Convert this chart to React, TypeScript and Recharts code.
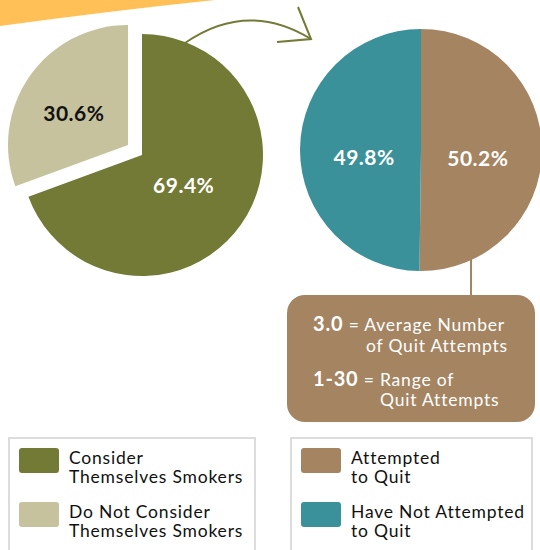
import React from 'react'
import { PieChart, Pie, Cell } from 'recharts'

// smokers self-identification (left pie)
const smokerLabels = ['Consider Themselves Smokers', 'Do Not Consider Themselves Smokers']
const smokerLegendLines = [
  ['Consider', 'Themselves Smokers'],
  ['Do Not Consider', 'Themselves Smokers'],
]
const smokerValues = [69.4, 30.6]
const smokerColors = ['#737A36', '#C5C29D']

// quit attempts (right pie)
const quitLabels = ['Attempted to Quit', 'Have Not Attempted to Quit']
const quitLegendLines = [
  ['Attempted', 'to Quit'],
  ['Have Not Attempted', 'to Quit'],
]
const quitValues = [50.2, 49.8]
const quitColors = ['#A58462', '#3A9199']

const avgAttempts = '3.0'
const rangeAttempts = '1-30'

const smokerData = smokerLabels.map((name, i) => ({ name, value: smokerValues[i] }))
const quitData = quitLabels.map((name, i) => ({ name, value: quitValues[i] }))

const FONT = 'Lato, "Open Sans", sans-serif'
const RADIAN = Math.PI / 180

// label factory: only draws the slice at `only`, placed at `ratio` of the radius
const makeLabel = (only: number, ratio: number, color: string, dx = 0, dy = 0) => (props: any) => {
  const { cx, cy, midAngle, outerRadius, index, value } = props
  if (index !== only) return null
  const r = outerRadius * ratio
  const x = cx + r * Math.cos(-midAngle * RADIAN) + dx
  const y = cy + r * Math.sin(-midAngle * RADIAN) + dy
  return (
    <text x={x} y={y} fill={color} textAnchor="middle" dominantBaseline="central"
      fontFamily={FONT} fontWeight={700} fontSize={21} letterSpacing={0.5}>
      {value.toFixed(1)}%
    </text>
  )
}

function LegendBox({ left, width, lines, colors }: { left: number; width: number; lines: string[][]; colors: string[] }) {
  return (
    <div style={{
      position: 'absolute', left, top: 437, width, height: 130, boxSizing: 'border-box',
      border: '2px solid #DCDCDC', background: '#fff',
    }}>
      {lines.map((l, i) => (
        <div key={i} style={{ position: 'absolute', left: 9, top: 9 + i * 54, display: 'flex' }}>
          <div style={{ width: 40, height: 25, borderRadius: 3, background: colors[i], flexShrink: 0 }} />
          <div style={{ marginLeft: 10, marginTop: 0, fontSize: 17.5, lineHeight: '19px', letterSpacing: 0.8, color: '#111' }}>
            {l.map((t, j) => <div key={j}>{t}</div>)}
          </div>
        </div>
      ))}
    </div>
  )
}

export default function App() {
  return (
    <div style={{ position: 'absolute', left: 0, top: 0, width: 540, height: 550, overflow: 'hidden', background: '#fff', fontFamily: FONT }}>
      <svg width={540} height={550} style={{ position: 'absolute', left: 0, top: 0 }}>
        {/* orange band */}
        <path d="M0,0 L215,0 Q110,11 0,26 Z" fill="#FFC157" />
        {/* arrow between pies */}
        <path d="M185,43 Q247,0 311,39" fill="none" stroke="#737A36" strokeWidth={2} />
        <path d="M298,7 L311,39 L277,42" fill="none" stroke="#737A36" strokeWidth={2} />
        {/* connector + info box */}
        <line x1={471} y1={250} x2={471} y2={296} stroke="#A58462" strokeWidth={2} />
        <rect x={287} y={295} width={248} height={127} rx={18} fill="#A58462" />
        <g fill="#fff" fontFamily={FONT} letterSpacing={0.8}>
          <text x={313} y={331} fontSize={17.5}>
            <tspan fontWeight={700} fontSize={20}>{avgAttempts}</tspan> = Average Number
          </text>
          <text x={366} y={352} fontSize={17.5}>of Quit Attempts</text>
          <text x={313} y={386} fontSize={17.5}>
            <tspan fontWeight={700} fontSize={20}>{rangeAttempts}</tspan> = Range of
          </text>
          <text x={380} y={406} fontSize={17.5}>Quit Attempts</text>
        </g>
      </svg>

      <div style={{ position: 'absolute', left: 0, top: 0 }}>
        <PieChart width={540} height={300} margin={{ top: 0, right: 0, bottom: 0, left: 0 }}>
          {/* main slice */}
          <Pie data={smokerData} dataKey="value" cx={142} cy={155} outerRadius={121}
            startAngle={90} endAngle={-270} stroke="none" labelLine={false}
            label={makeLabel(0, 0.42, '#fff')} isAnimationActive={false}>
            {smokerData.map((d, i) => <Cell key={d.name} fill={i === 0 ? smokerColors[0] : 'transparent'} />)}
          </Pie>
          {/* exploded slice */}
          <Pie data={smokerData} dataKey="value" cx={128} cy={145} outerRadius={120}
            startAngle={90} endAngle={-270} stroke="none" labelLine={false}
            label={makeLabel(1, 0.52, '#111', -3, 3)} isAnimationActive={false}>
            {smokerData.map((d, i) => <Cell key={d.name} fill={i === 1 ? smokerColors[1] : 'transparent'} />)}
          </Pie>
          <Pie data={quitData} dataKey="value" cx={421} cy={150} outerRadius={121}
            startAngle={90} endAngle={-270} stroke="none" labelLine={false}
            label={(p: any) => makeLabel(p.index, 0.47, '#fff', 0, 7)(p)} isAnimationActive={false}>
            {quitData.map((d, i) => <Cell key={d.name} fill={quitColors[i]} />)}
          </Pie>
        </PieChart>
      </div>

      <LegendBox left={8} width={248} lines={smokerLegendLines} colors={smokerColors} />
      <LegendBox left={290} width={243} lines={quitLegendLines} colors={quitColors} />
    </div>
  )
}
